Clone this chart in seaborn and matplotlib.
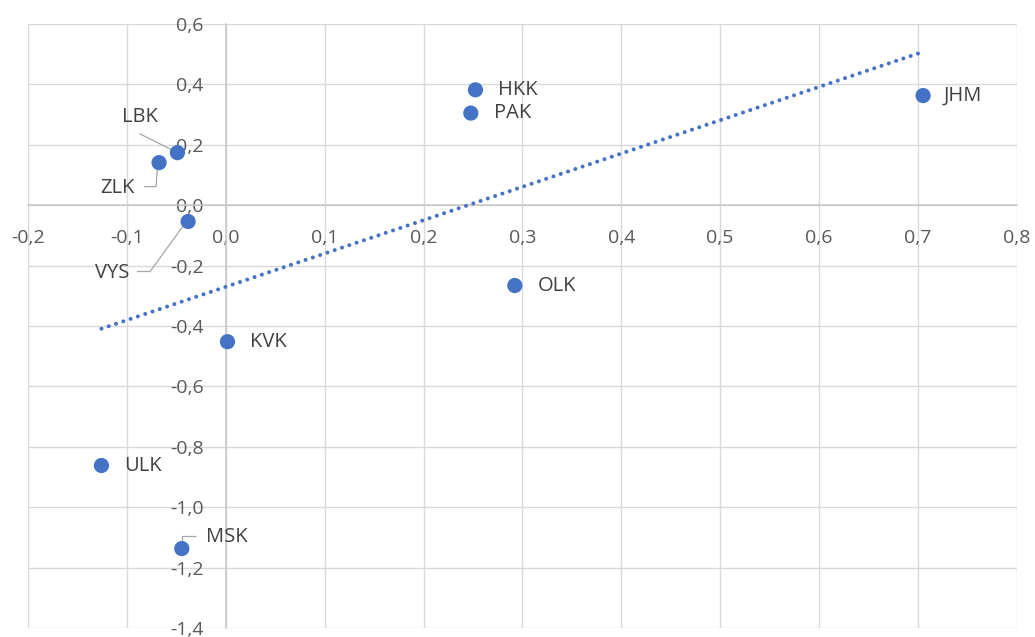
import matplotlib
matplotlib.use("Agg")
import matplotlib.pyplot as plt
import matplotlib.ticker as mticker
import numpy as np
import pandas as pd
import seaborn as sns

# ── Data ──────────────────────────────────────────────────────────────────────
regions = ["HKK", "PAK", "JHM", "LBK", "ZLK", "VYS", "OLK", "KVK", "ULK", "MSK"]
x_vals = [0.2524, 0.2477, 0.7053, -0.0491, -0.0677, -0.0383, 0.2922, 0.0015, -0.1260, -0.0447]
y_vals = [0.382, 0.305, 0.363, 0.174, 0.141, -0.054, -0.266, -0.452, -0.862, -1.137]
x_ticks = [-0.2, -0.1, 0.0, 0.1, 0.2, 0.3, 0.4, 0.5, 0.6, 0.7, 0.8]
y_ticks = [-1.4, -1.2, -1.0, -0.8, -0.6, -0.4, -0.2, 0.0, 0.2, 0.4, 0.6]

df = pd.DataFrame({"region": regions, "x": x_vals, "y": y_vals})

# label placement in pixels relative to the point (screen y downwards)
# name: (dx, dy, ha, leader vertices)
label_pos = {
    "HKK": (23, 0, "left", None),
    "PAK": (23, 0, "left", None),
    "JHM": (21, 0, "left", None),
    "OLK": (23, 0, "left", None),
    "KVK": (23, 0, "left", None),
    "ULK": (23, 0, "left", None),
    "LBK": (-38, -36, "center", [(-38, -19), (-2, -1)]),
    "ZLK": (-24, 25, "right", [(-15, 24), (-3, 24), (-1.5, 2)]),
    "VYS": (-59, 51, "right", [(-51, 50), (-38, 50), (-2.5, 1)]),
    "MSK": (24, -12, "left", [(14, -13), (0.7, -13), (0.7, -2)]),
}

BLUE = "#4472C4"
GRID = "#D9D9D9"
TICK = "#595959"
LABEL = "#404040"

sns.set_theme(style="white")
plt.rcParams["font.family"] = ["Open Sans", "DejaVu Sans"]

fig, ax = plt.subplots(figsize=(10.35, 6.37), dpi=100)
fig.subplots_adjust(left=0.02734, right=0.98232, bottom=0.01413, top=0.96232)

ax.set_xlim(-0.2, 0.8)
ax.set_ylim(-1.4, 0.6)
ax.set_xticks(x_ticks)
ax.set_yticks(y_ticks)
fmt = mticker.FuncFormatter(lambda v, p: f"{v:.1f}".replace(".", ","))
ax.xaxis.set_major_formatter(fmt)
ax.yaxis.set_major_formatter(fmt)
ax.grid(True, color=GRID, linewidth=1.0, zorder=0)
ax.set_axisbelow(True)

for side in ["top", "right"]:
    ax.spines[side].set_visible(False)
for side in ["left", "bottom"]:
    ax.spines[side].set_position(("data", 0))
    ax.spines[side].set_color("#C8C8C8")
    ax.spines[side].set_linewidth(1.1)
    ax.spines[side].set_zorder(1)
ax.tick_params(axis="x", length=0, pad=17, labelsize=14, labelcolor=TICK)
ax.tick_params(axis="y", length=0, pad=16, labelsize=14, labelcolor=TICK)

# trend line
sns.regplot(data=df, x="x", y="y", scatter=False, ci=None, truncate=True, ax=ax,
            line_kws=dict(color=BLUE, linewidth=2.9, linestyle=(0, (0.01, 1.9)),
                          dash_capstyle="round", zorder=2))

sns.scatterplot(data=df, x="x", y="y", s=120, color=BLUE, edgecolor="none",
                ax=ax, zorder=3, legend=False)
ax.set_xlabel("")
ax.set_ylabel("")

# data labels with leader lines
to_disp = ax.transData
to_data = ax.transData.inverted()
for name, xv, yv in zip(regions, x_vals, y_vals):
    dx, dy, ha, leader = label_pos[name]
    px, py = to_disp.transform((xv, yv))
    tx, ty = to_data.transform((px + dx, py - dy))
    ax.text(tx, ty, name, ha=ha, va="center", fontsize=14.5, color=LABEL, zorder=4)
    if leader:
        pts = [to_data.transform((px + lx, py - ly)) for lx, ly in leader]
        ax.plot([p[0] for p in pts], [p[1] for p in pts], color="#A6A6A6",
                linewidth=0.9, zorder=2.5, solid_capstyle="butt")

fig.savefig("out.png", dpi=100)
